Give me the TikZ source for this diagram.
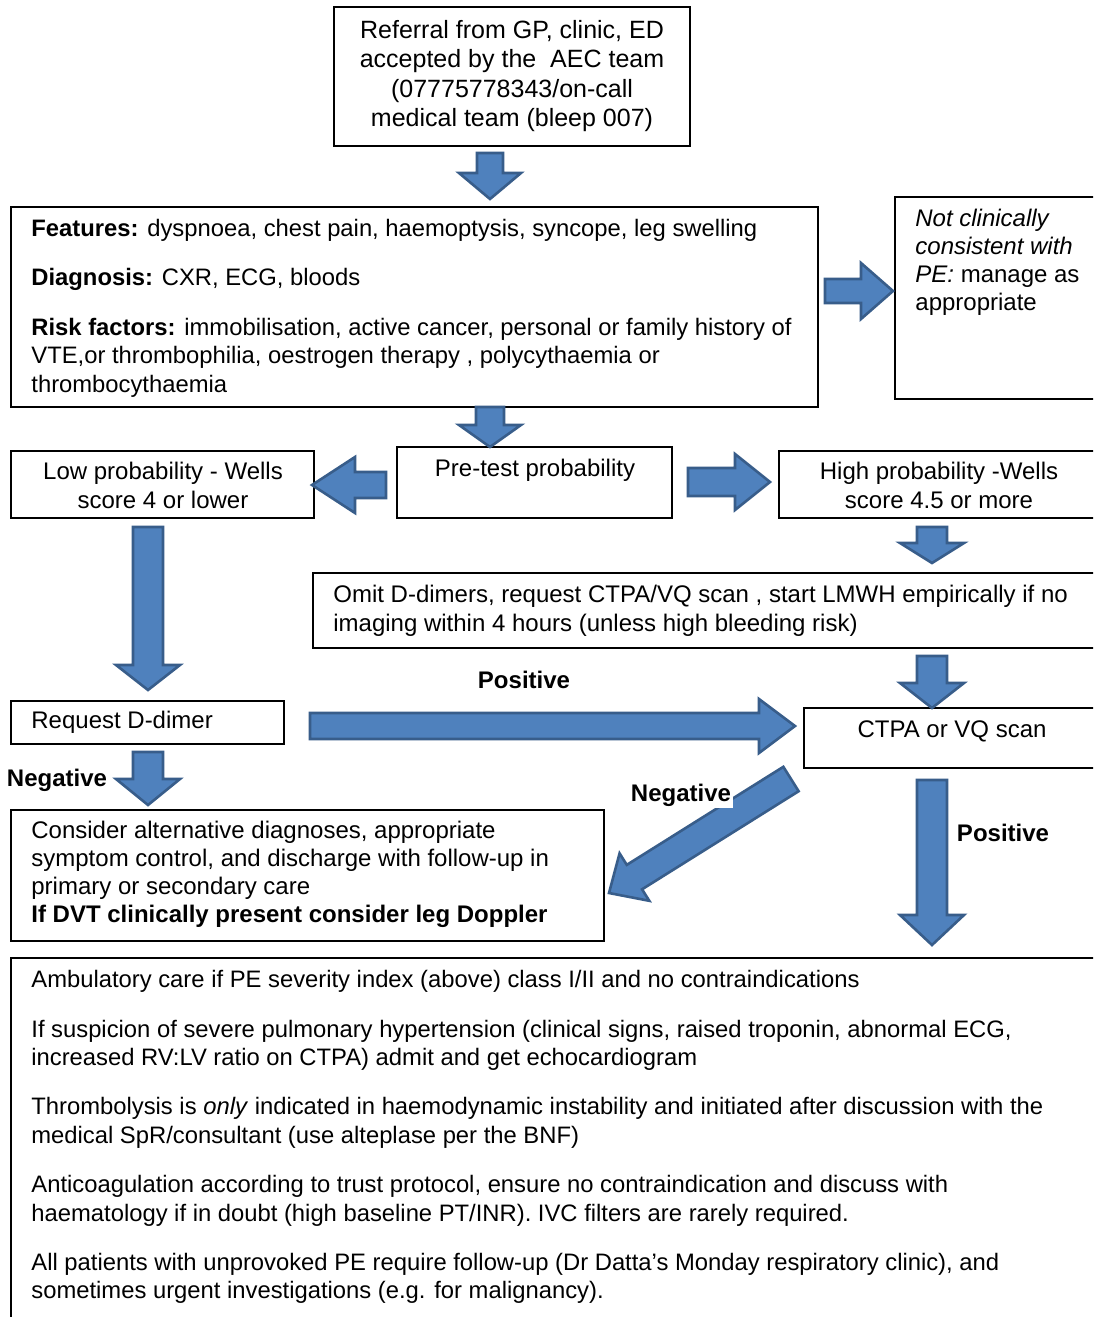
\documentclass[tikz,border=0pt]{standalone}
\usepackage{fontspec}
\setmainfont{Liberation Sans}
\usetikzlibrary{calc,fit}
\definecolor{arrowblue}{HTML}{4F81BD}
\definecolor{arrowdark}{HTML}{385D8A}
\newcommand\blockarrow[5]{%
  \path ($(#2)!#5!(#1)$) coordinate (bah);
  \draw[blockarr] ($(#1)!#3!90:(#2)$) -- ($(bah)!#3!90:(#2)$) -- ($(bah)!#4!90:(#2)$) -- (#2)
    -- ($(bah)!#4!-90:(#2)$) -- ($(bah)!#3!-90:(#2)$) -- ($(#1)!#3!-90:(#2)$) -- cycle;
}
\tikzset{
  box/.style={draw=black, line width=1pt, inner sep=0pt, rectangle},
  txt/.style={inner sep=0pt, font=\fontsize{12}{14.5}\selectfont},
  txtl/.style={txt, align=left, anchor=north west},
  txtc/.style={txt, align=center, anchor=north},
  lbl/.style={inner sep=1pt, font=\fontsize{12}{14.5}\selectfont\bfseries},
  blockarr/.style={fill=arrowblue, draw=arrowdark, line width=1.3pt, line join=miter}
}
\begin{document}
\begin{tikzpicture}[x=0.5pt,y=-0.5pt]
\useasboundingbox (0,0) rectangle (1093,1317);
\clip (0,0) rectangle (1093,1317);
\fill[white] (0,0) rectangle (1093,1317);

% boxes
\node[box, fit={(334,7) (690,146)}] (ref) {};
\node[box, fit={(11,207) (818,407)}] (feat) {};
\node[box, fit={(895,197) (1100,399)}] (notpe) {};
\node[box, fit={(11,451) (314,518)}] (low) {};
\node[box, fit={(397,447) (672,518)}] (pre) {};
\node[box, fit={(779,451) (1100,518)}] (high) {};
\node[box, fit={(313,573) (1100,648)}] (omit) {};
\node[box, fit={(11,701) (284,744)}] (dd) {};
\node[box, fit={(804,708) (1100,768)}] (ctpa) {};
\node[box, fit={(11,810) (604,941)}] (alt) {};
\node[box, fit={(11,958) (1100,1340)}] (manage) {};

% texts
\node[txtc, font=\fontsize{12.5}{14.7}\selectfont] (refT) at (512,20) {Referral from GP, clinic, ED\\accepted by the\ \ AEC team\\(07775778343/on-call\\medical team (bleep 007)};
\node[txtl, font=\fontsize{11.9}{14.4}\selectfont] (featT) at (31,219) {\textbf{Features:} dyspnoea, chest pain, haemoptysis, syncope, leg swelling\\[10.2pt]
\textbf{Diagnosis:} CXR, ECG, bloods\\[10.2pt]
\textbf{Risk factors:} immobilisation, active cancer, personal or family history of\\
VTE,or thrombophilia, oestrogen therapy , polycythaemia or\\
thrombocythaemia};
\node[txtl, font=\fontsize{12}{13.9}\selectfont] (notpeT) at (915,209) {\textit{Not clinically}\\\textit{consistent with}\\\textit{PE:} manage as\\appropriate};
\node[txtc] (lowT) at (163,462) {Low probability - Wells\\score 4 or lower};
\node[txtc] (preT) at (535,459) {Pre-test probability};
\node[txtc] (highT) at (939,462) {High probability -Wells\\score 4.5 or more};
\node[txtl] (omitT) at (333,585) {Omit D-dimers, request CTPA/VQ scan , start LMWH empirically if no\\imaging within 4 hours (unless high bleeding risk)};
\node[txtl] (ddT) at (31,711) {Request D-dimer};
\node[txtc] (ctpaT) at (952,720) {CTPA or VQ scan};
\node[txtl, font=\fontsize{12}{14}\selectfont] (altT) at (31,821) {Consider alternative diagnoses, appropriate\\
symptom control, and discharge with follow-up in\\
primary or secondary care\\
\textbf{If DVT clinically present consider leg Doppler}};
\node[txtl, font=\fontsize{11.9}{14.3}\selectfont] (manT) at (31,970) {Ambulatory care if PE severity index (above) class I/II and no contraindications\\[10.5pt]
If suspicion of severe pulmonary hypertension (clinical signs, raised troponin, abnormal ECG,\\
increased RV:LV ratio on CTPA) admit and get echocardiogram\\[10.2pt]
Thrombolysis is \textit{only} indicated in haemodynamic instability and initiated after discussion with the\\
medical SpR/consultant (use alteplase per the BNF)\\[10.2pt]
Anticoagulation according to trust protocol, ensure no contraindication and discuss with\\
haematology if in doubt (high baseline PT/INR). IVC filters are rarely required.\\[10.2pt]
All patients with unprovoked PE require follow-up (Dr Datta’s Monday respiratory clinic), and\\
sometimes urgent investigations (e.g. for malignancy).};

% arrow end points
\coordinate (a1s) at (490,153);  \coordinate (a1e) at (490,199);
\coordinate (a2s) at (825,291);  \coordinate (a2e) at (893,291);
\coordinate (a3s) at (490,407);  \coordinate (a3e) at (490,447);
\coordinate (a4s) at (386,485);  \coordinate (a4e) at (312,485);
\coordinate (a5s) at (688,482);  \coordinate (a5e) at (770,482);
\coordinate (a6s) at (932,527);  \coordinate (a6e) at (932,563);
\coordinate (a7s) at (932,656);  \coordinate (a7e) at (932,708);
\coordinate (a8s) at (932,780);  \coordinate (a8e) at (932,945);
\coordinate (a9s) at (148,527);  \coordinate (a9e) at (148,690);
\coordinate (a10s) at (148,752); \coordinate (a10e) at (148,805);
\coordinate (a11s) at (310,726); \coordinate (a11e) at (795,726);
\coordinate (a12s) at (791,779); \coordinate (a12e) at (609,893);

\blockarrow{a1s}{a1e}{6.5pt}{15.5pt}{13pt}
\blockarrow{a2s}{a2e}{6pt}{14pt}{16pt}
\blockarrow{a3s}{a3e}{7pt}{15.5pt}{11pt}
\blockarrow{a4s}{a4e}{6.5pt}{14pt}{21.5pt}
\blockarrow{a5s}{a5e}{7pt}{14pt}{17.5pt}
\blockarrow{a6s}{a6e}{7.5pt}{16pt}{10pt}
\blockarrow{a7s}{a7e}{7.5pt}{16pt}{12.5pt}
\blockarrow{a8s}{a8e}{7.5pt}{16pt}{15pt}
\blockarrow{a9s}{a9e}{7.5pt}{16pt}{12.5pt}
\blockarrow{a10s}{a10e}{7.5pt}{16pt}{13pt}
\blockarrow{a11s}{a11e}{6.5pt}{13.5pt}{18pt}
\blockarrow{a12s}{a12e}{7.2pt}{14pt}{15pt}

% labels
\node[lbl] (posL) at (524,680) {Positive};
\node[lbl] (negL) at (57,780) {Negative};
\node[lbl, fill=white] (negD) at (681,795) {Negative};
\node[lbl] (posR) at (1003,833) {Positive};
\end{tikzpicture}
\end{document}
